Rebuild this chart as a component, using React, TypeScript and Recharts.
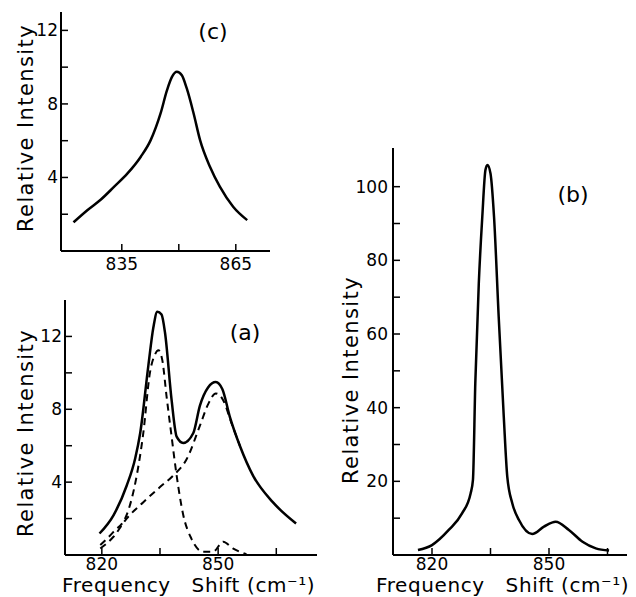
import { LineChart, Line, XAxis, YAxis } from 'recharts'

// panel (c)
const cFreq = [822.3, 826.0, 829.5, 833.0, 836.5, 840.0, 842.6, 845.2, 846.9, 848.2, 849.5, 850.8, 852.1, 853.9, 855.6, 858.2, 860.8, 864.3, 868.0]
const cInt = [1.56, 2.23, 2.8, 3.5, 4.22, 5.13, 6.03, 7.48, 8.75, 9.47, 9.75, 9.56, 8.84, 7.48, 6.03, 4.58, 3.5, 2.41, 1.68]

// panel (a): measured total + two fitted components
const aFreq = [819.4, 823.0, 826.4, 828.6, 829.9, 832.0, 833.3, 834.3, 835.4, 836.3, 838.0, 839.3, 841.0, 843.6, 845.3, 847.4, 849.4, 851.1, 853.0, 855.6, 859.0, 864.1, 870.1]
const aTotal = [1.18, 2.18, 3.8, 5.3, 6.7, 10.4, 12.5, 13.36, 13.2, 12.2, 8.5, 6.5, 6.15, 6.7, 8.2, 9.2, 9.5, 9.1, 7.6, 6.0, 4.36, 2.9, 1.73]
const aNarrowFreq = [819.6, 823.0, 826.4, 829.0, 830.7, 832.4, 833.7, 834.6, 835.6, 836.7, 838.0, 839.3, 841.0, 843.1, 846.1, 848.7, 851.3, 853.8, 857.3]
const aNarrow = [0.55, 1.27, 2.2, 4.36, 6.7, 10.0, 11.0, 11.24, 10.7, 8.7, 6.5, 4.36, 2.2, 0.9, 0.18, 0.18, 0.73, 0.36, 0.05]
const aBroadFreq = [819.6, 823.0, 826.4, 830.7, 835.0, 838.4, 841.9, 845.3, 847.4, 849.4, 851.3, 853.4, 855.6]
const aBroad = [0.36, 1.0, 2.0, 2.9, 3.73, 4.36, 5.27, 7.1, 8.27, 8.87, 8.5, 7.27, 6.0]

// panel (b)
const bFreq = [816.4, 820.0, 824.3, 827.7, 829.9, 830.5, 831.1, 832.0, 832.9, 833.7, 834.2, 835.0, 835.9, 837.1, 838.4, 839.3, 840.6, 842.3, 845.7, 848.7, 851.7, 855.1, 858.6, 862.0, 865.4]
const bInt = [1.36, 2.7, 6.8, 11.3, 16.7, 20.4, 46.6, 73.8, 91.9, 104.5, 105.9, 103.6, 91.9, 64.7, 37.6, 21.3, 14.0, 9.5, 5.7, 7.7, 9.05, 6.8, 3.6, 1.8, 1.2]

const smallYTicks = [0, 2, 4, 6, 8, 10, 12]
const smallYLabels = [4, 8, 12]
const bYTicks = [0, 10, 20, 30, 40, 50, 60, 70, 80, 90, 100]
const bYLabels = [20, 40, 60, 80, 100]
const cXTicks = [835, 850, 865]
const cXLabels = [835, 865]
const abXTicks = [820, 835, 850, 865]
const abXLabels = [820, 850]

const zip = (xs: number[], ys: number[]) => xs.map((f, i) => ({ f, v: ys[i] }))

const font = '"DejaVu Sans", sans-serif'
const tick = { fill: '#000', fontSize: 17, fontFamily: font }
const axisLine = { stroke: '#000', strokeWidth: 2 }
const tickLine = { stroke: '#000', strokeWidth: 1.5 }
const only = (keep: number[]) => (v: number) => (keep.includes(v) ? String(v) : '')

function YLabel({ cx, cy }: { cx: number; cy: number }) {
  return (
    <div
      style={{
        position: 'absolute', left: cx, top: cy, transform: 'translate(-50%, -50%) rotate(-90deg)',
        whiteSpace: 'nowrap', lineHeight: 1, fontSize: 21, fontFamily: font, letterSpacing: 1.4,
      }}
    >
      Relative Intensity
    </div>
  )
}

function XLabel({ left }: { left: number }) {
  return (
    <div
      style={{
        position: 'absolute', left, top: 575, whiteSpace: 'pre', lineHeight: 1,
        fontSize: 20, fontFamily: font, letterSpacing: 0.6,
      }}
    >
      {'Frequency   Shift (cm⁻¹)'}
    </div>
  )
}

function Tag({ x, y, text }: { x: number; y: number; text: string }) {
  return (
    <div
      style={{
        position: 'absolute', left: x, top: y, transform: 'translate(-50%, -50%)',
        fontSize: 22, fontFamily: font, lineHeight: 1,
      }}
    >
      {text}
    </div>
  )
}

export default function App() {
  return (
    <div style={{ position: 'absolute', left: 0, top: 0, width: 636, height: 597, background: '#fff', overflow: 'hidden' }}>
      {/* (c) */}
      <div style={{ position: 'absolute', left: 0, top: 0 }}>
        <LineChart width={280} height={290} margin={{ top: 12, right: 10, left: 0, bottom: 0 }}>
          <XAxis type="number" dataKey="f" domain={[819, 874]} ticks={cXTicks} tickFormatter={only(cXLabels)}
            allowDataOverflow height={39} tick={tick} axisLine={axisLine} tickLine={tickLine} tickSize={-7} tickMargin={14} />
          <YAxis type="number" domain={[0, 13]} ticks={smallYTicks} tickFormatter={only(smallYLabels)}
            allowDataOverflow width={61} tick={tick} axisLine={axisLine} tickLine={tickLine} tickSize={-7} tickMargin={10} />
          <Line data={zip(cFreq, cInt)} dataKey="v" type="monotone" stroke="#000" strokeWidth={2.5} dot={false} isAnimationActive={false} />
        </LineChart>
      </div>

      {/* (a) */}
      <div style={{ position: 'absolute', left: 0, top: 288 }}>
        <LineChart width={327} height={300} margin={{ top: 12, right: 10, left: 0, bottom: 0 }}>
          <XAxis type="number" dataKey="f" domain={[810.5, 875.5]} ticks={abXTicks} tickFormatter={only(abXLabels)}
            allowDataOverflow height={33} tick={tick} axisLine={axisLine} tickLine={tickLine} tickSize={-7} tickMargin={10} />
          <YAxis type="number" domain={[0, 14]} ticks={smallYTicks} tickFormatter={only(smallYLabels)}
            allowDataOverflow width={65} tick={tick} axisLine={axisLine} tickLine={tickLine} tickSize={-7} tickMargin={10} />
          <Line data={zip(aBroadFreq, aBroad)} dataKey="v" type="monotone" stroke="#000" strokeWidth={2} strokeDasharray="7 5" dot={false} isAnimationActive={false} />
          <Line data={zip(aNarrowFreq, aNarrow)} dataKey="v" type="monotone" stroke="#000" strokeWidth={2} strokeDasharray="7 5" dot={false} isAnimationActive={false} />
          <Line data={zip(aFreq, aTotal)} dataKey="v" type="monotone" stroke="#000" strokeWidth={2.5} dot={false} isAnimationActive={false} />
        </LineChart>
      </div>

      {/* (b) */}
      <div style={{ position: 'absolute', left: 330, top: 136 }}>
        <LineChart width={306} height={452} margin={{ top: 12, right: 9, left: 0, bottom: 0 }}>
          <XAxis type="number" dataKey="f" domain={[810, 870]} ticks={abXTicks} tickFormatter={only(abXLabels)}
            allowDataOverflow height={33} tick={tick} axisLine={axisLine} tickLine={tickLine} tickSize={-7} tickMargin={10} />
          <YAxis type="number" domain={[0, 110.5]} ticks={bYTicks} tickFormatter={only(bYLabels)}
            allowDataOverflow width={63} tick={tick} axisLine={axisLine} tickLine={tickLine} tickSize={-7} tickMargin={12} />
          <Line data={zip(bFreq, bInt)} dataKey="v" type="monotone" stroke="#000" strokeWidth={2.5} dot={false} isAnimationActive={false} />
        </LineChart>
      </div>

      <YLabel cx={26} cy={128} />
      <YLabel cx={26} cy={433} />
      <YLabel cx={351} cy={380} />
      <XLabel left={62} />
      <XLabel left={376} />
      <Tag x={213} y={32} text="(c)" />
      <Tag x={245} y={333} text="(a)" />
      <Tag x={573} y={195} text="(b)" />
    </div>
  )
}
